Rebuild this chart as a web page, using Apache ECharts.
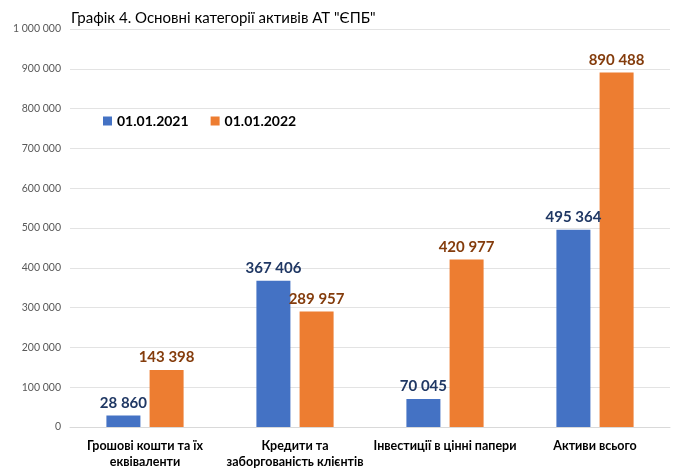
<!DOCTYPE html>
<html><head><meta charset="utf-8">
<script src="https://cdn.jsdelivr.net/npm/echarts@6/dist/echarts.min.js"></script>
<style>html,body{margin:0;padding:0;background:#fff}#c{width:673px;height:470px}</style>
</head><body><div id="c"></div>
<script>
const categories = ['Грошові кошти та їх\nеквіваленти', 'Кредити та\nзаборгованість клієнтів', 'Інвестиції в цінні папери', 'Активи всього'];
const series2021 = [28860, 367406, 70045, 495364];
const series2022 = [143398, 289957, 420977, 890488];
const seriesNames = ['01.01.2021', '01.01.2022'];
const titleText = 'Графік 4. Основні категорії активів АТ "ЄПБ"';

const fmt = v => String(v).replace(/\B(?=(\d{3})+(?!\d))/g, ' ');
const FONT = 'Lato, "Open Sans", sans-serif';
const chart = echarts.init(document.getElementById('c'));
chart.setOption({
  animation: false,
  textStyle: { fontFamily: FONT },
  title: { text: titleText, left: 66, top: 6, textStyle: { fontFamily: FONT, fontSize: 15, fontWeight: 'normal', color: '#000' } },
  legend: {
    data: seriesNames, left: 98, top: 109, icon: 'rect', itemWidth: 9, itemHeight: 9, itemGap: 22,
    textStyle: { fontFamily: FONT, fontSize: 14, fontWeight: 'bold', color: '#000' }
  },
  grid: { left: 70, right: 3, top: 29, bottom: 36, containLabel: false },
  xAxis: {
    type: 'category', data: categories,
    axisLine: { lineStyle: { color: '#d9d9d9' } }, axisTick: { show: false },
    axisLabel: { interval: 0, fontFamily: FONT, fontSize: 12.5, fontWeight: 'bold', color: '#000', margin: 11, lineHeight: 16 }
  },
  yAxis: {
    type: 'value', min: 0, max: 1000000, interval: 100000,
    axisLine: { show: false }, axisTick: { show: false },
    splitLine: { lineStyle: { color: '#e3e3e3' } },
    axisLabel: { formatter: fmt, fontFamily: FONT, fontSize: 10.5, color: '#595959', margin: 9 }
  },
  series: [
    { name: seriesNames[0], type: 'bar', data: series2021, barWidth: 34, barGap: '27%',
      itemStyle: { color: '#4472C4' },
      label: { show: true, position: 'top', formatter: p => fmt(p.value), fontFamily: FONT, fontSize: 15, fontWeight: 'bold', color: '#203864', distance: 5 } },
    { name: seriesNames[1], type: 'bar', data: series2022, barWidth: 34,
      itemStyle: { color: '#ED7D31' },
      label: { show: true, position: 'top', formatter: p => fmt(p.value), fontFamily: FONT, fontSize: 15, fontWeight: 'bold', color: '#843C0C', distance: 5 } }
  ]
});
</script></body></html>
